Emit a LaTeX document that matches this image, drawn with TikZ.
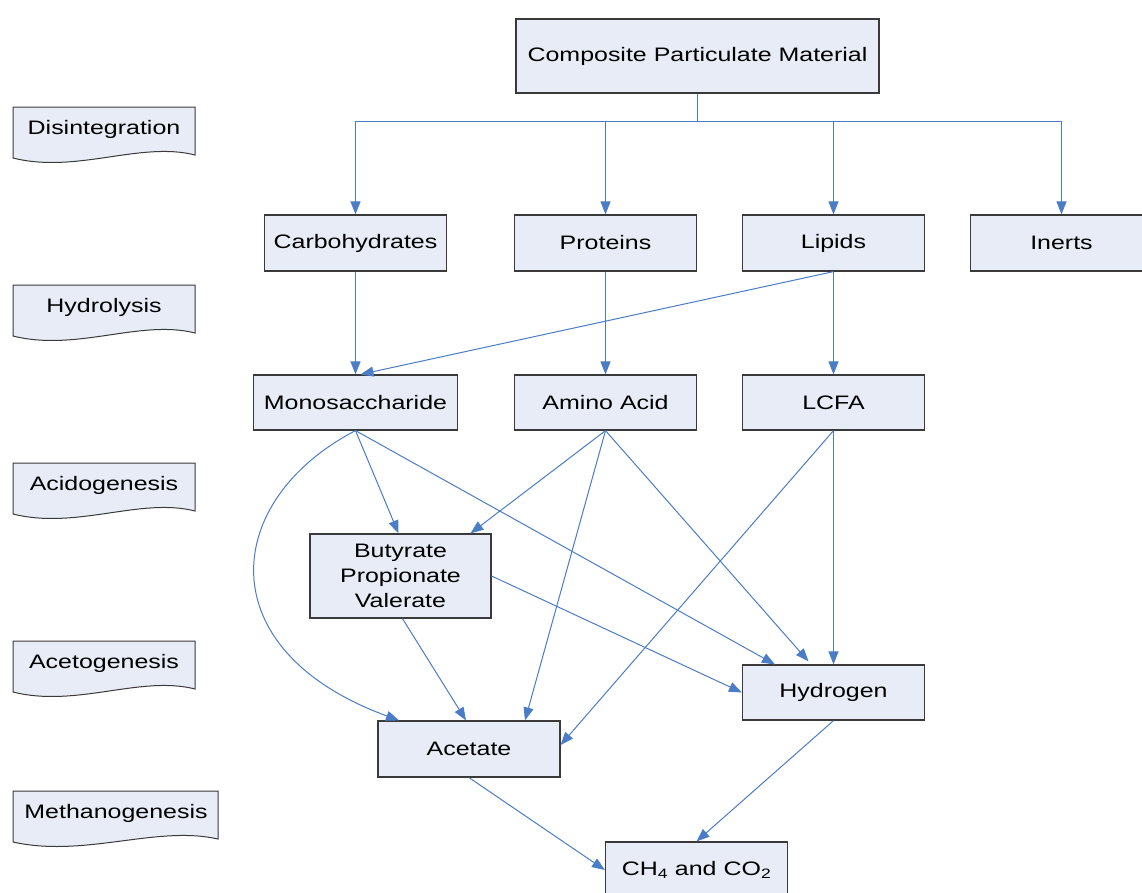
\documentclass[tikz,border=0pt]{standalone}
\usepackage{fontspec}
\setmainfont{Liberation Sans}[FakeStretch=1.28]
\usetikzlibrary{arrows.meta,calc}
\definecolor{boxfill}{HTML}{E7ECF6}
\definecolor{boxline}{HTML}{3A3A3A}
\definecolor{conn}{HTML}{4A7DC6}
\tikzset{
  procbox/.style={draw=boxline,fill=boxfill,line width=1.2pt,minimum width=182pt,minimum height=56pt,inner sep=0pt,align=center,font=\fontsize{19.5}{25}\selectfont},
  stagelabel/.style={inner sep=0pt,font=\fontsize{19.5}{25}\selectfont},
  docshape/.style={draw=boxline,fill=boxfill,line width=1pt},
  link/.style={draw=conn,line width=1pt,-{Triangle[length=13pt,width=10pt]}},
  plainlink/.style={draw=conn,line width=1pt}
}
\newcommand{\docbox}[4]{% x1, ytop, x2, ybottom
  \path[docshape] (#1,#2) -- (#3,#2) -- (#3,#4-3)
    .. controls ({#3-0.3*(#3-#1)},#4-17) and ({#1+0.35*(#3-#1)},#4+16) .. (#1,#4) -- cycle;
}
\begin{document}
\begin{tikzpicture}[x=1pt,y=-1pt]
\clip (0,0) rectangle (1142,892);
\fill[white] (0,0) rectangle (1142,892);

% stage labels
\docbox{13}{107}{195}{158}
\node[stagelabel] (lDis) at (104,129) {Disintegration};
\docbox{13}{285}{195}{336}
\node[stagelabel] (lHyd) at (104,307) {Hydrolysis};
\docbox{13}{463}{195}{514}
\node[stagelabel] (lAci) at (104,485) {Acidogenesis};
\docbox{13}{641}{195}{692}
\node[stagelabel] (lAce) at (104,663) {Acetogenesis};
\docbox{13}{791}{218}{842}
\node[stagelabel] (lMet) at (116,813) {Methanogenesis};

% boxes
\node[procbox,minimum width=363pt,minimum height=74pt] (comp) at (697.5,56) {Composite Particulate Material};
\node[procbox] (carb) at (355.5,243) {Carbohydrates};
\node[procbox] (prot) at (605.5,243) {Proteins};
\node[procbox] (lip) at (833.5,243) {Lipids};
\node[procbox] (inert) at (1061.5,243) {Inerts};
\node[procbox,minimum width=204pt,minimum height=55pt] (mono) at (355.5,402.5) {Monosaccharide};
\node[procbox,minimum height=55pt] (amino) at (605.5,402.5) {Amino Acid};
\node[procbox,minimum height=55pt] (lcfa) at (833.5,402.5) {LCFA};
\node[procbox,minimum width=181pt,minimum height=84pt] (buty) at (400.5,576) {Butyrate\\Propionate\\Valerate};
\node[procbox,minimum height=55pt] (hyd) at (833.5,692.5) {Hydrogen};
\node[procbox] (acet) at (469,749) {Acetate};
\node[procbox] (ch4) at (696.5,870) {CH\textsubscript{4} and CO\textsubscript{2}};

% disintegration tree
\coordinate (bus) at (697.5,121.5);
\draw[plainlink] (comp.south) -- (bus);
\draw[link] (bus) -| (carb.north);
\draw[link] (bus) -| (prot.north);
\draw[link] (bus) -| (lip.north);
\draw[link] (bus) -| (inert.north);

% hydrolysis
\draw[link] (carb.south) -- (mono.north);
\draw[link] (lip.south) -- ([xshift=5pt]mono.north);
\draw[link] (prot.south) -- (amino.north);
\draw[link] (lip.south) -- (lcfa.north);

% acidogenesis
\draw[link] (mono.south) .. controls (222,500) and (207,650) .. ([xshift=-70pt]acet.north);
\draw[link] (mono.south) -- ([xshift=-2pt]buty.north);
\draw[link] (mono.south) -- ([xshift=33pt]hyd.north west);
\draw[link] (amino.south) -- ([xshift=70pt]buty.north);
\draw[link] (amino.south) -- ([xshift=56pt]acet.north);
\draw[link] (amino.south) -- ([xshift=-25pt,yshift=3pt]hyd.north);
\draw[link] (lcfa.south) -- ([yshift=4pt]acet.east);
\draw[link] (lcfa.south) -- (hyd.north);

% acetogenesis
\draw[link] (buty.east) -- (hyd.west);
\draw[link] ([xshift=2pt]buty.south) -- ([xshift=-3pt]acet.north);

% methanogenesis
\draw[link] (acet.south) -- (ch4.west);
\draw[link] (hyd.south) -- (ch4.north);
\end{tikzpicture}
\end{document}
